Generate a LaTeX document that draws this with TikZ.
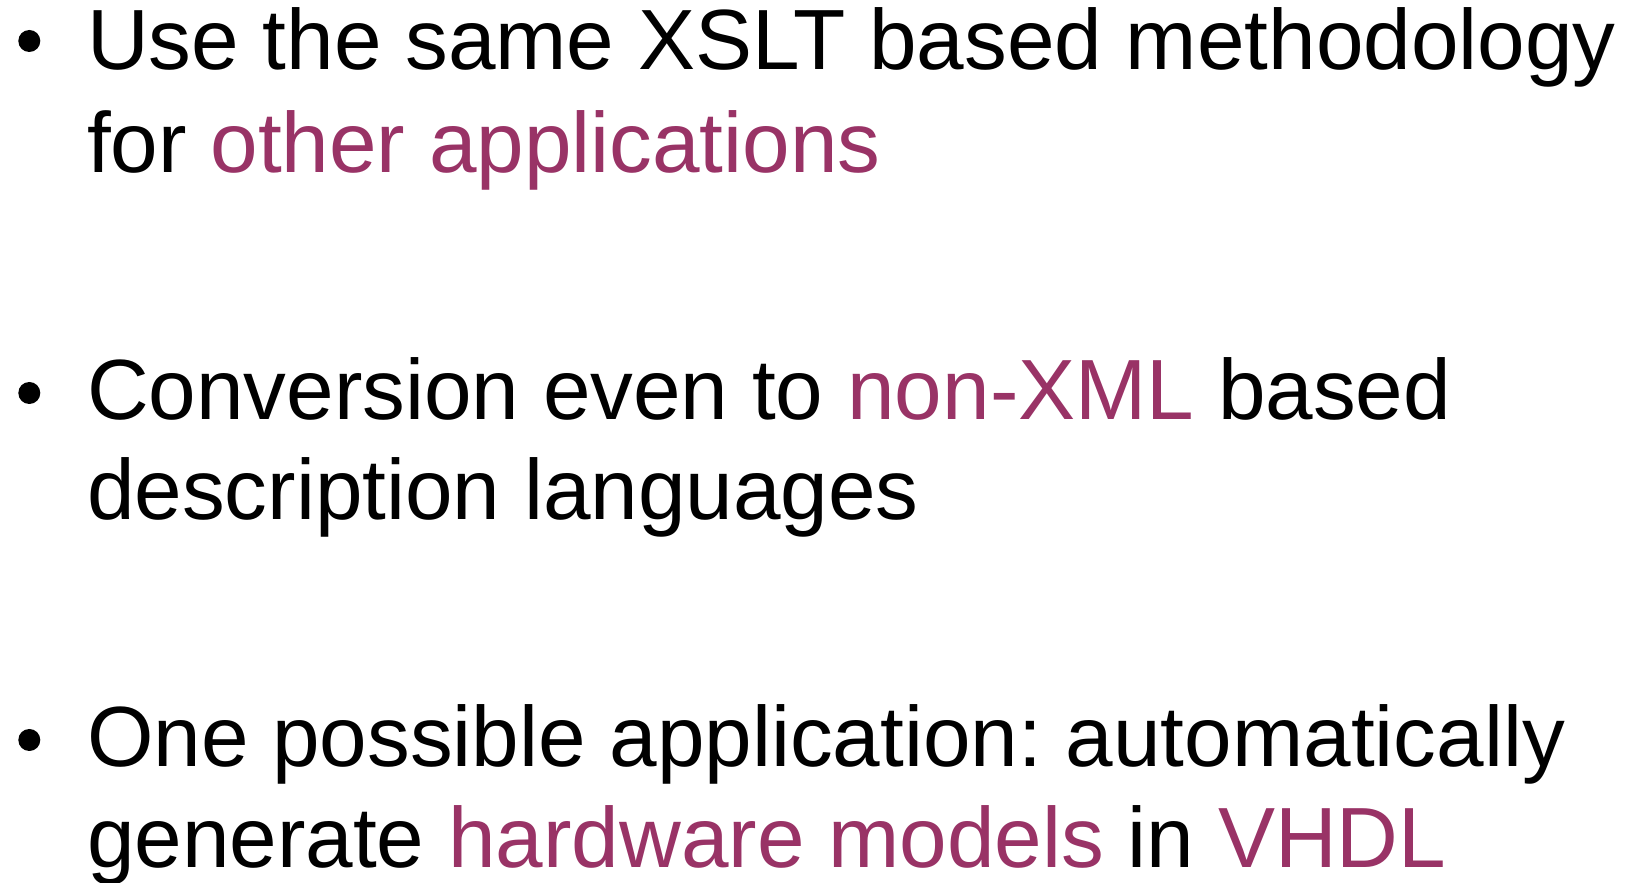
\documentclass[tikz,border=0pt]{standalone}
\usepackage{fontspec}
\setmainfont{Liberation Sans}
\definecolor{plum}{HTML}{993366}
\frenchspacing
\begin{document}
\begin{tikzpicture}[x=1pt,y=1pt,
  line/.style={anchor=base west, inner sep=0pt, outer sep=0pt, font=\fontsize{85.5}{100}\selectfont},
  bul/.style={circle, fill=black, inner sep=0pt, minimum size=22pt}]
\useasboundingbox (0,0) rectangle (1625,883);
\node[bul] (b1) at (29.3,842) {};
\node[bul] (b2) at (29.3,490) {};
\node[bul] (b3) at (29.3,143) {};
\node[line] (l1) at (87,813) {Use the same XSLT based methodology};
\node[line] (l2) at (87,710) {for \textcolor{plum}{other applications}};
\node[line] (l3) at (87,463) {Conversion even to \textcolor{plum}{non-XML} based};
\node[line] (l4) at (87,363) {description languages};
\node[line] (l5) at (87,116) {One possible application: automatically};
\node[line] (l6) at (87,15) {generate \textcolor{plum}{hardware models} in \textcolor{plum}{VHDL}};
\end{tikzpicture}
\end{document}
